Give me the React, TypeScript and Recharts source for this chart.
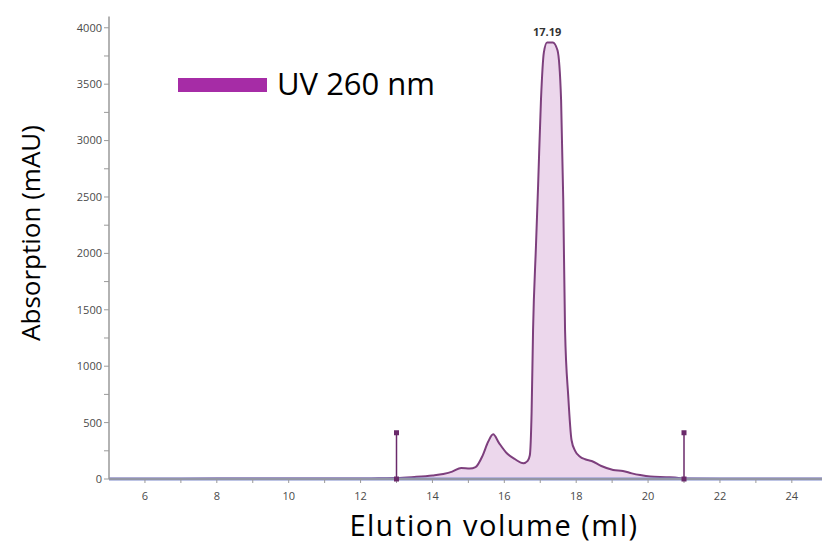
import React from 'react';
import {
  ComposedChart, Area, XAxis, YAxis, ReferenceLine, ReferenceDot, Label,
} from 'recharts';

// UV trace (ml, mAU)
const volumes = [
  5, 6, 7, 8, 9, 10, 11, 12, 12.5, 13, 13.5, 14, 14.3, 14.55, 14.8, 15.04, 15.2, 15.4, 15.55, 15.69, 15.85,
  16.07, 16.3, 16.53, 16.65, 16.71, 16.76, 16.8, 16.88, 16.94, 17.02, 17.1, 17.19, 17.35, 17.48, 17.58,
  17.64, 17.69, 17.78, 17.87, 17.97, 18.1, 18.25, 18.43, 18.7, 19.03, 19.3, 19.55, 19.78, 20.06,
  20.5, 20.85, 21.0, 22, 23, 24, 24.84,
];
const absorbance = [
  3, 3, 3, 4, 4, 4, 5, 5, 6, 8, 18, 32, 45, 65, 98, 92, 105, 210, 330, 396, 320,
  228, 175, 139, 160, 210, 600, 1320, 2060, 2600, 3361, 3780, 3870, 3870, 3800, 3361,
  2475, 1320, 730, 346, 250, 200, 175, 160, 115, 80, 71, 50, 35, 22,
  16, 10, 4, 3, 3, 3, 3,
];

// fraction marks
const fractionStart = 13;
const fractionEnd = 21;
const fractionMarkHeight = 410;

const peakVolume = 17.19;
const peakHeight = 3870;

const xTicks = [6, 7, 8, 9, 10, 11, 12, 13, 14, 15, 16, 17, 18, 19, 20, 21, 22, 23, 24];
const yTicks = [0, 250, 500, 750, 1000, 1250, 1500, 1750, 2000, 2250, 2500, 2750, 3000, 3250, 3500, 3750, 4000];

const data = volumes.map((v, i) => ({ v, uv: absorbance[i] }));

const TRACE = '#7d3f7d';
const FILL = '#ecd7ec';
const MARK = '#6a2a6a';
const titleFont = '"Open Sans", sans-serif';
const tickFont = '"Open Sans", sans-serif';

const SquareDot = (props: any) => (
  <rect x={props.cx - 2.5} y={props.cy - 2.5} width={5} height={5} fill={MARK} />
);

const App = () => {
  return (
    <div style={{ position: 'absolute', left: 0, top: 0, width: 822, height: 543 }}>
      <ComposedChart width={822} height={543} data={data} margin={{ top: 16.5, right: 0, bottom: 0, left: 0 }}>
        <XAxis
          dataKey="v"
          type="number"
          domain={[5, 24.84]}
          ticks={xTicks}
          tickFormatter={(t: number) => (t % 2 === 0 ? String(t) : '')}
          height={64}
          tickSize={4}
          tickMargin={9}
          axisLine={{ stroke: '#9a9a9a', strokeWidth: 1.5 }}
          tickLine={{ stroke: '#9a9a9a' }}
          tick={{ fontSize: 11, fill: '#4a4a4a', fontFamily: tickFont }}
          allowDataOverflow
        >
          <Label
            content={() => (
              <text x={494} y={536} textAnchor="middle" fontSize={29} letterSpacing={1.5} fontFamily={titleFont} fill="#000">
                Elution volume (ml)
              </text>
            )}
          />
        </XAxis>
        <YAxis
          type="number"
          domain={[0, 4100]}
          ticks={yTicks}
          tickFormatter={(t: number) => (t % 500 === 0 ? String(t) : '')}
          width={109}
          tickSize={5}
          tickMargin={2}
          axisLine={{ stroke: '#9a9a9a', strokeWidth: 1.5 }}
          tickLine={{ stroke: '#9a9a9a' }}
          tick={{ fontSize: 11, fill: '#4a4a4a', fontFamily: tickFont }}
          allowDataOverflow
        >
          <Label
            content={() => (
              <text
                x={40}
                y={233}
                transform="rotate(-90 40 233)"
                textAnchor="middle"
                fontSize={26}
                fontFamily={titleFont}
                fill="#000"
              >
                Absorption (mAU)
              </text>
            )}
          />
        </YAxis>
        <Area
          type="monotone"
          dataKey="uv"
          stroke={TRACE}
          strokeWidth={2}
          fill={FILL}
          fillOpacity={1}
          isAnimationActive={false}
          dot={false}
          activeDot={false}
        />
        <ReferenceLine y={0} stroke="#7f8bcb" strokeWidth={3} />
        <ReferenceLine
          segment={[{ x: fractionStart, y: 0 }, { x: fractionStart, y: fractionMarkHeight }]}
          stroke={MARK}
          strokeWidth={1.5}
        />
        <ReferenceLine
          segment={[{ x: fractionEnd, y: 0 }, { x: fractionEnd, y: fractionMarkHeight }]}
          stroke={MARK}
          strokeWidth={1.5}
        />
        <ReferenceDot x={fractionStart} y={fractionMarkHeight} shape={SquareDot} />
        <ReferenceDot x={fractionStart} y={0} shape={SquareDot} />
        <ReferenceDot x={fractionEnd} y={fractionMarkHeight} shape={SquareDot} />
        <ReferenceDot x={fractionEnd} y={0} shape={SquareDot} />
        <ReferenceDot
          x={peakVolume}
          y={peakHeight}
          r={0}
          fill="none"
          stroke="none"
          label={{ value: String(peakVolume), position: 'top', offset: 6, fontSize: 11, fontWeight: 700, fill: '#333', fontFamily: tickFont }}
        />
      </ComposedChart>
      {/* series key */}
      <div style={{ position: 'absolute', left: 178, top: 69, display: 'flex', alignItems: 'center', fontFamily: titleFont, lineHeight: 1 }}>
        <span style={{ display: 'inline-block', width: 89, height: 14, background: '#a62ca6' }} />
        <span style={{ marginLeft: 10, fontSize: 31, color: '#000', position: 'relative', top: -1 }}>UV 260 nm</span>
      </div>
    </div>
  );
};

export default App;
